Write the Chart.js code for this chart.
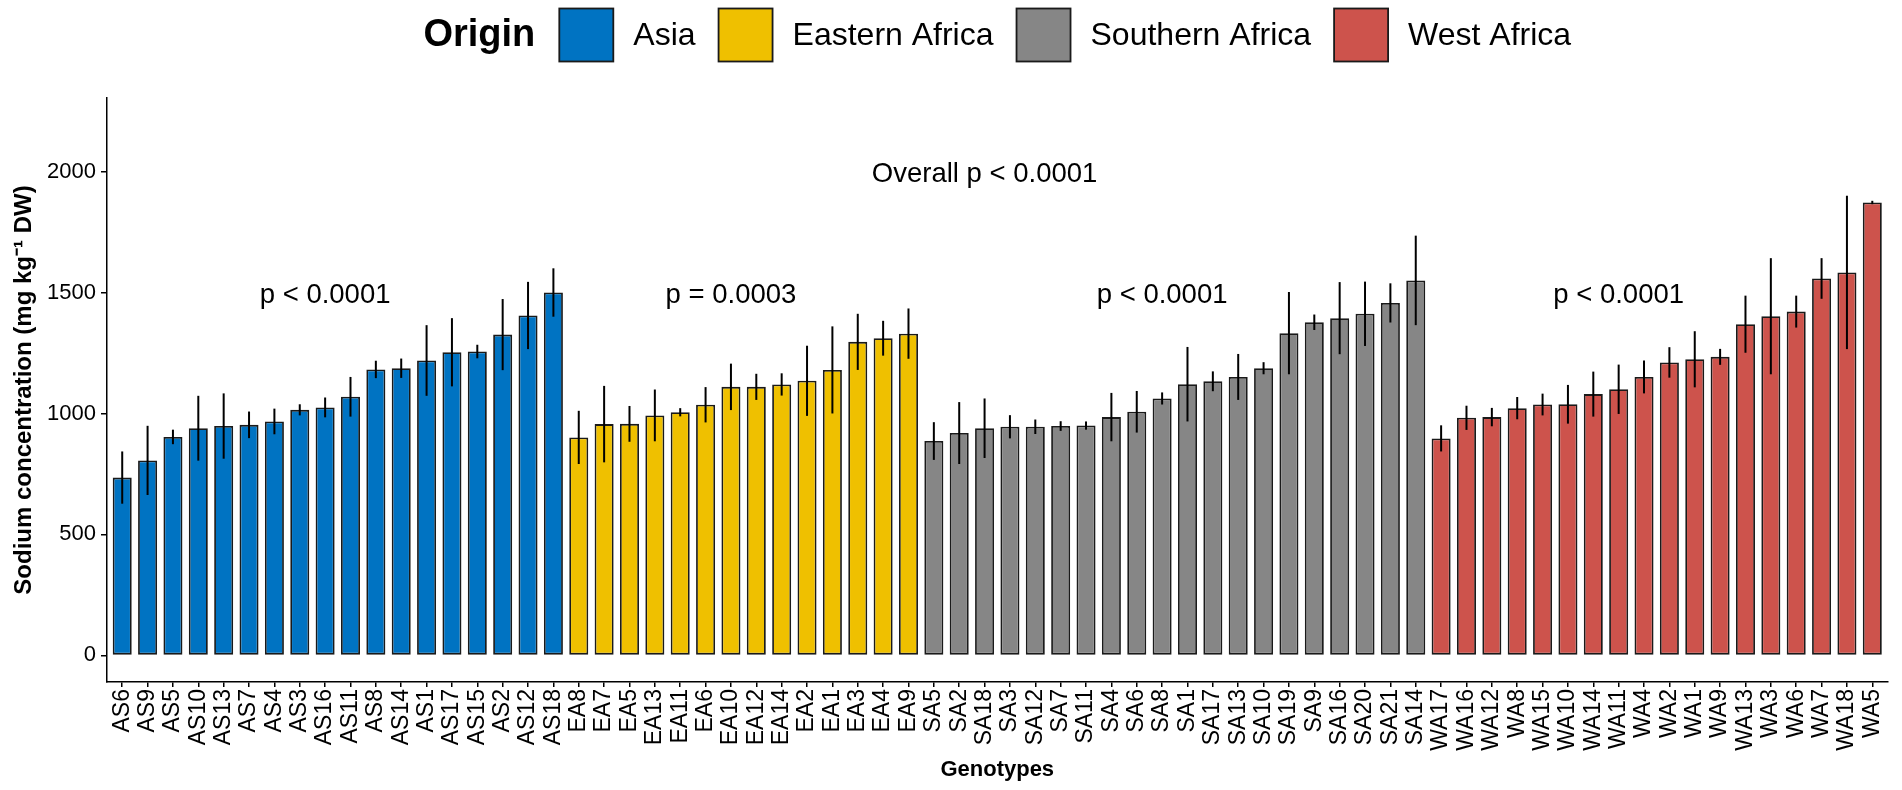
<!DOCTYPE html>
<html>
<head>
<meta charset="utf-8">
<script src="https://cdn.jsdelivr.net/npm/chart.js@4.4.1/dist/chart.umd.min.js"></script>
<style>
  html, body { margin: 0; padding: 0; background: #fff; }
  #wrap { width: 1902px; height: 790px; }
</style>
</head>
<body>
<div id="wrap"><canvas id="c" width="1902" height="790"></canvas></div>
<script>
// ---------------- DATA ----------------
const origins = ["Asia", "Eastern Africa", "Southern Africa", "West Africa"];
const originColors = ["#0073C2", "#EFC000", "#868686", "#CD534C"];

const asiaGenotypes = ["AS6","AS9","AS5","AS10","AS13","AS7","AS4","AS3","AS16","AS11","AS8","AS14","AS1","AS17","AS15","AS2","AS12","AS18"];
const asiaValues    = [735, 806, 903, 939, 948, 953, 967, 1015, 1025, 1069, 1182, 1187, 1219, 1253, 1256, 1326, 1405, 1500];
const asiaSD        = [108, 143, 30, 134, 135, 55, 53, 23, 41, 82, 36, 40, 146, 141, 28, 147, 139, 100];

const eastGenotypes = ["EA8","EA7","EA5","EA13","EA11","EA6","EA10","EA12","EA14","EA2","EA1","EA3","EA4","EA9"];
const eastValues    = [901, 956, 957, 992, 1005, 1036, 1110, 1110, 1120, 1135, 1180, 1296, 1311, 1330];
const eastSD        = [110, 158, 74, 107, 17, 73, 96, 54, 46, 145, 180, 116, 72, 104];

const southGenotypes = ["SA5","SA2","SA18","SA3","SA12","SA7","SA11","SA4","SA6","SA8","SA1","SA17","SA13","SA10","SA19","SA9","SA16","SA20","SA21","SA14"];
const southValues    = [886, 919, 939, 945, 945, 948, 950, 985, 1007, 1062, 1121, 1133, 1151, 1187, 1332, 1377, 1394, 1412, 1457, 1550];
const southSD        = [78, 128, 123, 48, 30, 20, 17, 100, 86, 25, 154, 41, 95, 25, 170, 32, 149, 133, 81, 185];

const westGenotypes = ["WA17","WA16","WA12","WA8","WA15","WA10","WA14","WA11","WA4","WA2","WA1","WA9","WA13","WA3","WA6","WA7","WA18","WA5"];
const westValues    = [897, 982, 985, 1022, 1037, 1038, 1080, 1100, 1151, 1211, 1224, 1234, 1369, 1402, 1421, 1558, 1583, 1872];
const westSD        = [54, 50, 38, 46, 45, 80, 93, 102, 68, 63, 116, 33, 118, 240, 66, 84, 317, 7];

const yTicks = [0, 500, 1000, 1500, 2000];
const yMin = -110, yMax = 2304;

// Annotation labels: text, x position (category index), y value
const annotTexts  = ["Overall p < 0.0001", "p < 0.0001", "p = 0.0003", "p < 0.0001", "p < 0.0001"];
const annotX      = [34, 8, 24, 41, 59];
const annotY      = [1990, 1490, 1490, 1490, 1490];

// ---------------- BUILD ----------------
const groupGenotypes = [asiaGenotypes, eastGenotypes, southGenotypes, westGenotypes];
const groupValues = [asiaValues, eastValues, southValues, westValues];
const groupSD = [asiaSD, eastSD, southSD, westSD];

const genotypes = [], values = [], sds = [], barColors = [];
groupGenotypes.forEach((g, gi) => {
  g.forEach((name, k) => {
    genotypes.push(name);
    values.push(groupValues[gi][k]);
    sds.push(groupSD[gi][k]);
    barColors.push(originColors[gi]);
  });
});
const n = genotypes.length;

const FONT = "'Liberation Sans', Arial, Helvetica, sans-serif";
Chart.defaults.font.family = FONT;
Chart.defaults.color = '#000';

const errorBars = {
  id: 'errorBars',
  afterDatasetsDraw(chart) {
    const { ctx, scales: { y } } = chart;
    const meta = chart.getDatasetMeta(0);
    ctx.save();
    ctx.strokeStyle = '#000';
    ctx.lineWidth = 2;
    meta.data.forEach((bar, i) => {
      ctx.beginPath();
      ctx.moveTo(bar.x, y.getPixelForValue(values[i] - sds[i]));
      ctx.lineTo(bar.x, y.getPixelForValue(values[i] + sds[i]));
      ctx.stroke();
    });
    ctx.restore();
  }
};

const annotations = {
  id: 'annotations',
  afterDatasetsDraw(chart) {
    const { ctx, scales: { x, y } } = chart;
    ctx.save();
    ctx.fillStyle = '#000';
    ctx.font = `27.5px ${FONT}`;
    ctx.textAlign = 'center';
    ctx.textBaseline = 'middle';
    annotTexts.forEach((t, i) => {
      ctx.fillText(t, x.getPixelForValue(annotX[i]), y.getPixelForValue(annotY[i]));
    });
    ctx.restore();
  }
};

const topLegend = {
  id: 'topLegend',
  afterDraw(chart) {
    const { ctx, chartArea } = chart;
    const titleFont = `bold 38px ${FONT}`;
    const itemFont = `32px ${FONT}`;
    const box = 54, boxH = 53, gapTitle = 24, gapBoxText = 20, gapItem = 23;
    const cy = 35;
    ctx.save();
    ctx.font = titleFont;
    const titleW = ctx.measureText('Origin').width;
    ctx.font = itemFont;
    const widths = origins.map(o => ctx.measureText(o).width);
    let total = titleW + gapTitle;
    widths.forEach((w, i) => { total += box + gapBoxText + w + (i < widths.length - 1 ? gapItem : 0); });
    let x = (chartArea.left + chartArea.right) / 2 - total / 2;
    ctx.textBaseline = 'middle';
    ctx.textAlign = 'left';
    ctx.fillStyle = '#000';
    ctx.font = titleFont;
    ctx.fillText('Origin', x, cy + 1);
    x += titleW + gapTitle;
    ctx.font = itemFont;
    origins.forEach((o, i) => {
      ctx.fillStyle = originColors[i];
      ctx.fillRect(x, cy - boxH / 2, box, boxH);
      ctx.strokeStyle = '#1a1a1a';
      ctx.lineWidth = 1.8;
      ctx.strokeRect(x, cy - boxH / 2, box, boxH);
      x += box + gapBoxText;
      ctx.fillStyle = '#000';
      ctx.fillText(o, x, cy + 1);
      x += widths[i] + gapItem;
    });
    ctx.restore();
  }
};

new Chart(document.getElementById('c'), {
  type: 'bar',
  data: {
    labels: genotypes,
    datasets: [{
      label: 'Sodium concentration',
      data: values.map((v, i) => ({ x: i, y: v })),
      backgroundColor: barColors,
      borderColor: '#1a1a1a',
      borderWidth: 1.8,
      borderSkipped: false,
      categoryPercentage: 1.0,
      barPercentage: 0.75
    }]
  },
  options: {
    responsive: false,
    animation: false,
    devicePixelRatio: 1,
    layout: { padding: { left: 0, right: 12, top: 98, bottom: 0 } },
    plugins: {
      legend: { display: false },
      tooltip: { enabled: false }
    },
    scales: {
      x: {
        type: 'linear',
        min: -0.6,
        max: n - 1 + 0.6,
        offset: false,
        afterBuildTicks(axis) { axis.ticks = genotypes.map((g, i) => ({ value: i })); },
        afterFit(scale) { scale.height = 108; },
        ticks: {
          autoSkip: false,
          minRotation: 90,
          maxRotation: 90,
          padding: 2,
          color: '#000',
          font: { size: 23 },
          callback: (v) => genotypes[v]
        },
        grid: { display: true, offset: false, drawOnChartArea: false, drawTicks: true, tickLength: 5, color: '#000', lineWidth: 1.5 },
        border: { display: true, color: '#000', width: 1.5 },
        title: {
          display: true,
          text: 'Genotypes',
          color: '#000',
          font: { size: 22, weight: 'bold' },
          padding: { top: 0, bottom: 7 }
        }
      },
      y: {
        type: 'linear',
        min: yMin,
        max: yMax,
        afterBuildTicks(axis) { axis.ticks = yTicks.map(v => ({ value: v })); },
        afterFit(scale) { scale.width = 107; },
        ticks: { padding: 5, color: '#000', font: { size: 22 }, callback: (v) => String(v) },
        grid: { display: true, drawOnChartArea: false, drawTicks: true, tickLength: 6, color: '#000', lineWidth: 1.5 },
        border: { display: true, color: '#000', width: 1.5 },
        title: {
          display: true,
          text: 'Sodium concentration (mg kg\u207B\u00B9 DW)',
          color: '#000',
          font: { size: 24, weight: 'bold' },
          padding: { top: 10, bottom: 0 }
        }
      }
    }
  },
  plugins: [errorBars, annotations, topLegend]
});
</script>
</body>
</html>
